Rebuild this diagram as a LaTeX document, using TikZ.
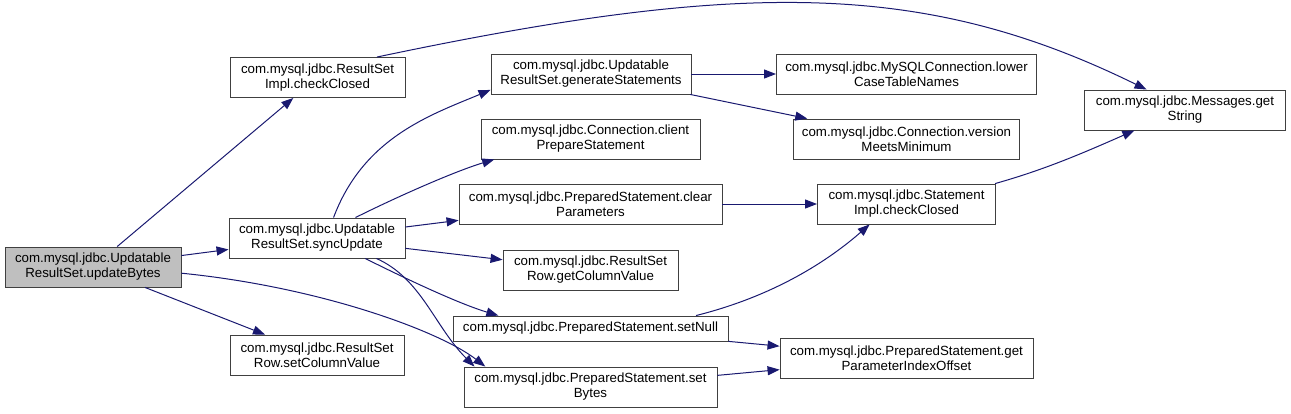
\documentclass[tikz,border=0pt]{standalone}
\usepackage{fontspec}
\setmainfont{Liberation Sans}
\usetikzlibrary{arrows.meta,calc,positioning}
\definecolor{callblue}{HTML}{191970}
\definecolor{rootgray}{HTML}{BFBFBF}

\begin{document}
\begin{tikzpicture}[x=1pt, y=-1pt,
  func/.style={draw=black!75, line width=0.9pt, minimum height=40pt, inner sep=0pt, align=center,
    font=\fontsize{13.3}{15}\selectfont},
  calls/.style={draw=callblue, line width=1pt, -{Triangle[length=12pt,width=9pt]}, fill=none}]
  \useasboundingbox (0,0) rectangle (1291,413);

  \node[func, fill=rootgray, minimum width=176pt] (upd) at (93,267) {com.mysql.jdbc.Updatable\\ResultSet.updateBytes};

  \node[func, minimum width=175pt] (rsclosed) at (317.5,77.5) {com.mysql.jdbc.ResultSet\\Impl.checkClosed};
  \node[func, minimum width=176pt] (sync) at (317,238) {com.mysql.jdbc.Updatable\\ResultSet.syncUpdate};
  \node[func, minimum width=174pt] (setcol) at (317,355) {com.mysql.jdbc.ResultSet\\Row.setColumnValue};

  \node[func, minimum width=200pt] (gen) at (591,74) {com.mysql.jdbc.Updatable\\ResultSet.generateStatements};
  \node[func, minimum width=219pt] (client) at (590.5,139) {com.mysql.jdbc.Connection.client\\PrepareStatement};
  \node[func, minimum width=263pt] (clear) at (590.5,204) {com.mysql.jdbc.PreparedStatement.clear\\Parameters};
  \node[func, minimum width=175pt] (getcol) at (590.5,270) {com.mysql.jdbc.ResultSet\\Row.getColumnValue};
  \node[func, minimum width=275pt, minimum height=25pt] (setnull) at (590.5,328.5) {com.mysql.jdbc.PreparedStatement.setNull};
  \node[func, minimum width=253pt] (setbytes) at (590.5,387) {com.mysql.jdbc.PreparedStatement.set\\Bytes};

  \node[func, minimum width=260pt] (lower) at (906.5,74) {com.mysql.jdbc.MySQLConnection.lower\\CaseTableNames};
  \node[func, minimum width=226pt] (version) at (906.5,139) {com.mysql.jdbc.Connection.version\\MeetsMinimum};
  \node[func, minimum width=178pt] (stclosed) at (906.5,204) {com.mysql.jdbc.Statement\\Impl.checkClosed};
  \node[func, minimum width=253pt] (offset) at (906.5,358) {com.mysql.jdbc.PreparedStatement.get\\ParameterIndexOffset};

  \node[func, minimum width=201pt] (messages) at (1185,110) {com.mysql.jdbc.Messages.get\\String};

  % calls from updateBytes
  \draw[calls] (upd) -- (rsclosed);
  \draw[calls] (upd) -- (sync);
  \draw[calls] (upd) -- (setcol);
  \draw[calls] (upd.-4.5) .. controls +(140,14) and +(-45,-35) .. (setbytes.169.3);

  \draw[calls] (rsclosed.19) .. controls +(370,-78) and +(-220,-108) .. (messages.152);

  % calls from syncUpdate
  \draw[calls] (sync.51) .. controls +(30,-80) and +(-60,25) .. (gen.189);
  \draw[calls] (sync.28) .. controls +(40,-20) and +(-40,12) .. (client.192);
  \draw[calls] (sync) -- (clear);
  \draw[calls] (sync) -- (getcol);
  \draw[calls] (sync.-23.5) .. controls +(40,20) and +(-40,-12) .. (setnull.172.7);
  \draw[calls] (sync.-19) .. controls +(45,20) and +(-40,-40) .. (setbytes.170.4);

  \draw[calls] (gen) -- (lower);
  \draw[calls] (gen) -- (version);
  \draw[calls] (clear) -- (stclosed);
  \draw[calls] (setnull.7.7) .. controls +(80,-20) and +(-40,35) .. (stclosed.-151);
  \draw[calls] (setnull) -- (offset);
  \draw[calls] (setbytes) -- (offset);
  \draw[calls] (stclosed.13) .. controls +(50,-14) and +(-50,22) .. (messages.-158);
\end{tikzpicture}
\end{document}
